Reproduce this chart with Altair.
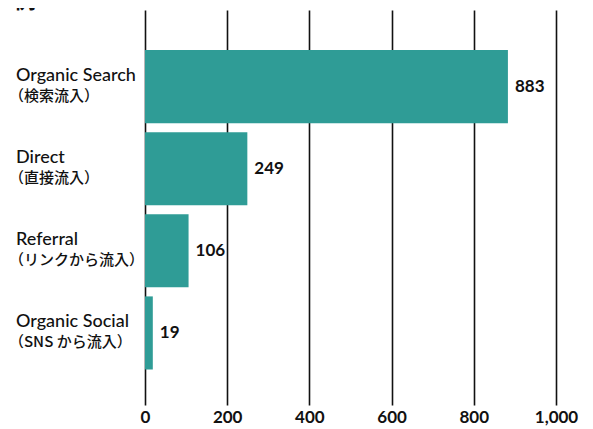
import altair as alt
import pandas as pd

title_text = "例"
cat_en = ["Organic Search", "Direct", "Referral", "Organic Social"]
cat_ja = ["（検索流入）", "（直接流入）", "（リンクから流入）", "（SNS から流入）"]
values = [883, 249, 106, 19]
x_ticks = [0, 200, 400, 600, 800, 1000]

df = pd.DataFrame({"cat": cat_en, "ja": cat_ja, "value": values})

FONT = "Lato, Noto Sans CJK JP, sans-serif"
JFONT = "Noto Sans CJK JP, sans-serif"
BAR = "#2f9c96"

y_enc = alt.Y(
    "cat:N",
    sort=cat_en,
    title=None,
    scale=alt.Scale(paddingInner=0.11, paddingOuter=0.46, align=0.53),
    axis=None,
)
x_enc = alt.X(
    "value:Q",
    title=None,
    scale=alt.Scale(domain=[0, 1000], nice=False),
    axis=alt.Axis(
        values=x_ticks, domain=False, ticks=False, grid=True,
        gridColor="#111", gridWidth=1.6, gridOpacity=1,
        labelFont=FONT, labelFontSize=17, labelFontWeight="bold",
        labelColor="#111", labelPadding=4, format=",.0f", labelFlush=False,
    ),
)

base = alt.Chart(df)
bars = base.mark_bar(color=BAR).encode(x=x_enc, y=y_enc)
text = base.mark_text(
    align="left", baseline="middle", dx=7, font=FONT, fontSize=17,
    fontWeight="bold", color="#111"
).encode(x="value:Q", y=alt.Y("cat:N", sort=cat_en), text="value:Q")

lab_en = base.mark_text(
    align="left", baseline="middle", dy=-11, font=FONT, fontSize=18,
    fontWeight=500, color="#111"
).encode(x=alt.value(-129), y=alt.Y("cat:N", sort=cat_en), text="cat:N")
lab_ja = base.mark_text(
    align="left", baseline="middle", dy=9, font=JFONT, fontSize=15,
    fontWeight=500, color="#111"
).encode(x=alt.value(-136), y=alt.Y("cat:N", sort=cat_en), text="ja:N")

title = alt.Chart(pd.DataFrame({"t": [title_text]})).mark_text(
    align="left", baseline="bottom", font=FONT, fontSize=22,
    fontWeight="bold", color="#111"
).encode(x=alt.value(-131), y=alt.value(3), text="t:N")

chart = (bars + text + lab_en + lab_ja + title).properties(
    width=411, height=395,
    autosize=alt.AutoSizeParams(type="none"),
    padding={"left": 137, "top": 2, "right": 29, "bottom": 24},
).configure_view(stroke=None)

chart.save("out.html", embed_options={"renderer": "svg", "actions": False})
